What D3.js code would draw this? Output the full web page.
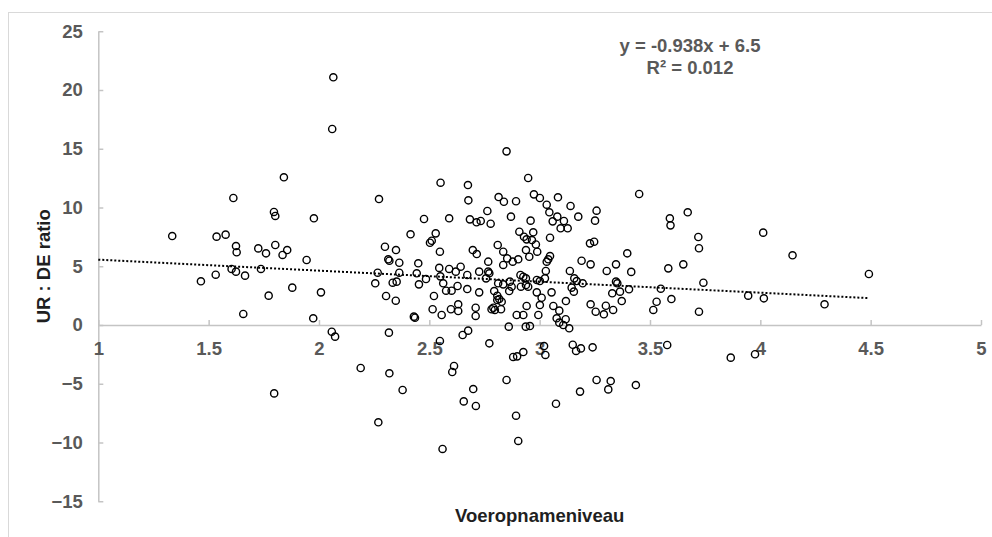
<!DOCTYPE html>
<html>
<head>
<meta charset="utf-8">
<script src="https://cdn.jsdelivr.net/npm/d3@7"></script>
<style>
  html, body { margin: 0; padding: 0; background: #fff; }
  svg { display: block; font-family: "Liberation Sans", Arial, sans-serif; }
</style>
</head>
<body>
<svg id="chart" width="992" height="537"></svg>
<script>
// Voeropnameniveau (x) against UR : DE ratio (y)
const xValues = [
  1.335, 1.465, 1.532, 1.536, 1.577, 1.604, 1.612, 1.624, 1.624, 1.627,
  1.657, 1.665, 1.725, 1.737, 1.760, 1.772, 1.796, 1.802, 1.802, 1.797,
  1.835, 1.841, 1.856, 1.879, 1.944, 1.974, 1.977, 2.009, 2.058, 2.073,
  2.060, 2.065,
  2.189, 2.255, 2.266, 2.269, 2.272, 2.299, 2.304, 2.314, 2.317, 2.319,
  2.319, 2.334, 2.348, 2.349, 2.352, 2.364, 2.364, 2.379, 2.415, 2.430,
  2.435, 2.443, 2.450, 2.453, 2.476, 2.485, 2.503, 2.511, 2.529,
  2.515, 2.521, 2.545, 2.550, 2.563, 2.548, 2.548, 2.551, 2.556, 2.560,
  2.576, 2.590, 2.590, 2.598, 2.601, 2.604, 2.612, 2.620, 2.628, 2.631,
  2.631, 2.642, 2.651, 2.656, 2.672, 2.672, 2.675, 2.676, 2.677, 2.684,
  2.697, 2.699, 2.710, 2.710, 2.711, 2.714, 2.715, 2.726, 2.726, 2.733,
  2.757, 2.763, 2.767, 2.767, 2.772, 2.772, 2.778, 2.782, 2.790, 2.797,
  2.825, 2.794, 2.808, 2.817, 2.828, 2.808, 2.810, 2.812, 2.814, 2.835,
  2.835, 2.835, 2.838, 2.850, 2.850, 2.853, 2.860, 2.862, 2.865, 2.870,
  2.873, 2.878, 2.880, 2.893, 2.893, 2.896, 2.898, 2.903, 2.903, 2.908,
  2.913, 2.915, 2.926, 2.926, 2.926, 2.929, 2.937, 2.938, 2.938, 2.938,
  2.941, 2.941, 2.948, 2.948, 2.953, 2.956, 2.959, 2.965, 2.971, 2.974,
  2.983, 2.987, 2.987, 2.989, 2.994,
  3.001, 3.001, 3.001, 3.009, 3.020, 3.024, 3.026, 3.028, 3.032, 3.032,
  3.039, 3.044, 3.047, 3.047, 3.054, 3.059, 3.062, 3.074, 3.077, 3.080,
  3.083, 3.089, 3.089, 3.095, 3.107, 3.110, 3.118, 3.119, 3.127, 3.134,
  3.137, 3.140, 3.145, 3.150, 3.155, 3.157, 3.165, 3.168, 3.175, 3.183,
  3.187, 3.190, 3.195, 3.228, 3.231, 3.231, 3.240, 3.247, 3.251, 3.254,
  3.258, 3.258, 3.291, 3.300, 3.304, 3.311, 3.322, 3.329, 3.333, 3.346,
  3.346, 3.352, 3.364, 3.372, 3.397, 3.405, 3.415, 3.436, 3.451, 3.515,
  3.530, 3.549, 3.578, 3.583, 3.590, 3.593, 3.597, 3.651, 3.671, 3.719,
  3.722, 3.722, 3.742, 3.866, 3.945, 3.976, 4.013, 4.016, 4.146, 4.291,
  4.492
];
const yValues = [
  7.57, 3.72, 4.28, 7.52, 7.69, 4.77, 10.81, 4.54, 6.72, 6.19,
  0.94, 4.20, 6.52, 4.77, 6.10, 2.50, 9.62, 9.28, 6.81, -5.82,
  5.96, 12.57, 6.38, 3.18, 5.53, 0.57, 9.08, 2.78, -0.57, -0.99,
  16.68, 21.08,
  -3.66, 3.55, 4.45, -8.28, 10.72, 6.66, 2.47, 5.59, -0.65, 5.47,
  -4.11, 3.60, 2.07, 6.38, 3.69, 5.30, 4.45, -5.53, 7.72, 0.71,
  0.62, 4.40, 5.25, 3.46, 9.02, 3.91, 7.00, 7.17, 7.80,
  1.34, 2.47, 4.86, 4.14, 3.55, 6.24, -1.36, 12.11, 0.85, -10.55,
  2.92, 9.08, 4.77, 1.34, 2.92, -4.00, -3.49, 4.54, 3.32, 1.76,
  1.19, 4.96, -0.85, -6.50, 4.26, 3.06, 11.91, -0.48, 10.61, 8.99,
  6.38, -5.45, 1.47, 0.77, -6.89, 8.74, 6.04, 4.54, 2.78, 8.85,
  3.97, 9.70, 5.39, 4.54, 4.40, -1.56, 8.62, 1.34, 1.47, 1.28,
  1.34, 2.89, 2.49, 2.21, 1.98, 2.13, 6.81, 3.55, 10.89, 3.46,
  6.24, 5.11, 10.49, 14.78, -4.68, 5.67, -0.14, 2.89, 3.69, 9.22,
  3.26, 5.39, -2.72, 10.53, -7.72, 0.85, -2.67, 5.59, -9.87, 7.94,
  4.26, 3.26, 4.11, 0.85, -2.30, 7.51, -0.14, 3.97, 3.40, 6.38,
  7.29, 1.62, 12.51, 3.26, 5.81, -0.09, 8.88, 7.23, 7.89, 11.12,
  6.85, 3.83, 2.78, 6.24, 0.85,
  10.81, 3.74, 1.70, 2.32, -1.79, 3.97, -2.55, 4.60, 10.24, 5.39,
  5.59, 9.59, 5.87, 7.43, 2.78, 8.82, 1.62, -6.70, 0.57, 9.22,
  10.87, 1.22, 0.20, 8.23, 0.00, 8.85, 0.49, 2.04, 8.23, -0.28,
  4.60, 10.13, 3.18, -1.68, 2.84, 3.97, -2.21, 3.74, 9.22, -5.67,
  -1.99, 5.47, 3.55, 6.95, 5.16, 1.76, -1.90, 7.09, 8.88, 1.13,
  9.73, -4.68, 0.91, 1.64, 4.60, -5.48, -4.77, 2.70, 1.28, 5.16,
  3.69, 3.55, 2.84, 2.04, 6.10, 3.04, 4.52, -5.11, 11.15, 1.28,
  1.98, 3.09, -1.70, 4.82, 9.08, 8.48, 2.21, 5.16, 9.59, 7.49,
  6.53, 1.13, 3.60, -2.78, 2.50, -2.49, 7.86, 2.27, 5.93, 1.76,
  4.34
];

// Axis ticks
const xTicks = [1, 1.5, 2, 2.5, 3, 3.5, 4, 4.5, 5];
const yTicks = [-15, -10, -5, 0, 5, 10, 15, 20, 25];

// Linear trendline as printed on the chart
const trendSlope = -0.938;
const trendIntercept = 6.5;
const trendRange = [1, 4.492];
const equationLabel = "y = -0.938x + 6.5";
const r2Label = "R² = 0.012";

const xTitle = "Voeropnameniveau";
const yTitle = "UR : DE ratio";

const svg = d3.select("#chart");
const axisGrey = "#c4c4c4";
const labelGrey = "#595959";

// outer chart frame
svg.append("rect")
  .attr("x", 8.5).attr("y", 12.5)
  .attr("width", 1000).attr("height", 600)
  .attr("fill", "none").attr("stroke", "#d9d9d9").attr("stroke-width", 1);

const x = d3.scaleLinear().domain([1, 5]).range([98.3, 981]);
const y = d3.scaleLinear().domain([-15, 25]).range([501.25, 31.25]);

// y axis at x = 1, ticks pointing inward
const yAxis = svg.append("g")
  .attr("transform", `translate(${x(1)},0)`)
  .call(d3.axisLeft(y).tickValues(yTicks).tickFormat(d3.format("d"))
    .tickSizeInner(-5).tickSizeOuter(0).tickPadding(15.5));

// x axis crossing at y = 0, ticks pointing upward
const xAxis = svg.append("g")
  .attr("transform", `translate(0,${y(0)})`)
  .call(d3.axisBottom(x).tickValues(xTicks).tickFormat(d => String(d))
    .tickSizeInner(-5).tickSizeOuter(0).tickPadding(16.5));

[yAxis, xAxis].forEach(g => {
  g.select(".domain").attr("stroke", axisGrey).attr("stroke-width", 1.5);
  g.selectAll(".tick line").attr("stroke", axisGrey).attr("stroke-width", 1.5);
  g.selectAll(".tick text")
    .attr("fill", labelGrey)
    .style("font-size", "18.5px")
    .style("font-weight", "bold")
    .style("font-family", "'Liberation Sans', Arial, sans-serif");
});

// data points: hollow circles
svg.append("g")
  .selectAll("circle")
  .data(d3.zip(xValues, yValues))
  .join("circle")
  .attr("cx", d => x(d[0]))
  .attr("cy", d => y(d[1]))
  .attr("r", 3.6)
  .attr("fill", "none")
  .attr("stroke", "#000")
  .attr("stroke-width", 1.4);

// dotted linear trendline
const trendPts = trendRange.map(v => [v, trendSlope * v + trendIntercept]);
svg.append("path")
  .datum(trendPts)
  .attr("d", d3.line().x(d => x(d[0])).y(d => y(d[1])))
  .attr("fill", "none")
  .attr("stroke", "#000")
  .attr("stroke-width", 2)
  .attr("stroke-dasharray", "2,2");

// trendline equation
const eq = svg.append("g")
  .attr("fill", labelGrey)
  .style("font-size", "18.5px")
  .style("font-weight", "bold")
  .attr("text-anchor", "middle");
eq.append("text").attr("x", 690).attr("y", 52).text(equationLabel);
eq.append("text").attr("x", 690).attr("y", 73.5).text(r2Label);

// axis titles
svg.append("text")
  .attr("x", (x(1) + x(5)) / 2)
  .attr("y", 522)
  .attr("text-anchor", "middle")
  .attr("fill", "#1f1f1f")
  .style("font-size", "18.5px")
  .style("font-weight", "bold")
  .text(xTitle);

svg.append("text")
  .attr("transform", `translate(50,${(y(-15) + y(25)) / 2}) rotate(-90)`)
  .attr("text-anchor", "middle")
  .attr("fill", "#1f1f1f")
  .style("font-size", "18.5px")
  .style("font-weight", "bold")
  .text(yTitle);
</script>
</body>
</html>
